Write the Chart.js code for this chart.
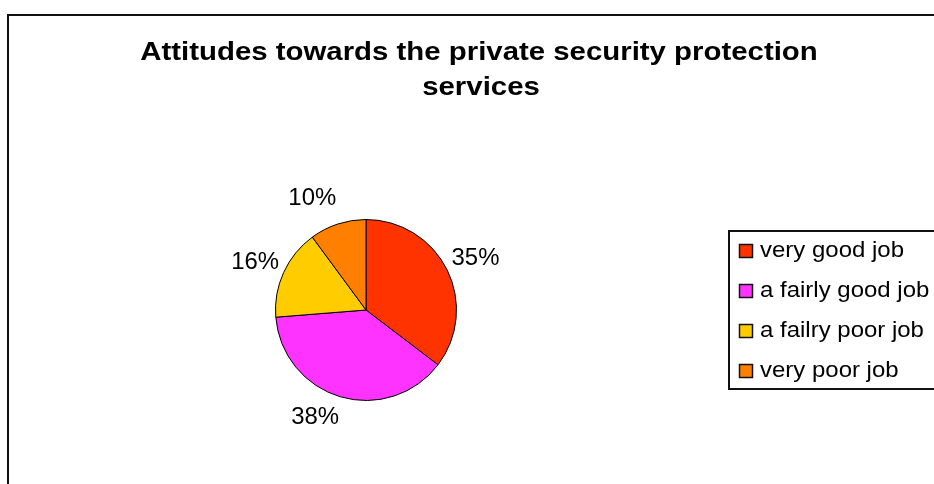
<!DOCTYPE html>
<html>
<head>
<meta charset="utf-8">
<script src="https://cdn.jsdelivr.net/npm/chart.js@4.4.1/dist/chart.umd.min.js"></script>
<style>
  html, body { margin: 0; padding: 0; background: #fff; }
  #wrap { position: relative; width: 934px; height: 484px; }
</style>
</head>
<body>
<div id="wrap"><canvas id="pie"></canvas></div>
<script>
const titleLines = ['Attitudes towards the private security protection', 'services'];
const categories = ['very good job', 'a fairly good job', 'a failry poor job', 'very poor job'];
const shares = [35, 38, 16, 10];
const sliceColors = ['#FF3300', '#FF33FF', '#FFCC00', '#FF8000'];

const FONT = '"Liberation Sans", Arial, sans-serif';

// text in the picture is a bit wider than Arial, so stretch it sideways
function drawText(ctx, text, x, y, font, sx, align) {
    ctx.save();
    ctx.font = font;
    ctx.fillStyle = '#000';
    ctx.textAlign = align;
    ctx.textBaseline = 'alphabetic';
    ctx.translate(x, y);
    ctx.scale(sx, 1);
    ctx.fillText(text, 0, 0);
    ctx.restore();
}

// outer frame + title
const framePlugin = {
    id: 'frame',
    beforeDraw(chart) {
        const ctx = chart.ctx;
        ctx.save();
        ctx.strokeStyle = '#111';
        ctx.lineWidth = 2;
        ctx.strokeRect(8, 15, 1000, 600);
        ctx.restore();
        const f = 'bold 26px ' + FONT;
        drawText(ctx, titleLines[0], 479, 60, f, 1.13, 'center');
        drawText(ctx, titleLines[1], 481, 95, f, 1.13, 'center');
    }
};

// percentage labels outside each slice
const labelPlugin = {
    id: 'sliceLabels',
    afterDatasetsDraw(chart) {
        const ctx = chart.ctx;
        const meta = chart.getDatasetMeta(0);
        const font = '23px ' + FONT;
        const sx = 1.04;
        meta.data.forEach((arc, i) => {
            const p = arc.getProps(['x', 'y', 'startAngle', 'endAngle', 'outerRadius'], true);
            const mid = (p.startAngle + p.endAngle) / 2;
            const ux = Math.cos(mid);
            const uy = Math.sin(mid);
            const text = shares[i] + '%';
            ctx.font = font;
            const w = ctx.measureText(text).width * sx;
            const cx = p.x + ux * (p.outerRadius + 5) + Math.sign(ux) * w / 2;
            const cy = p.y + uy * (p.outerRadius + 5) + uy * (uy < 0 ? 24 : 14);
            drawText(ctx, text, cx, cy + 8.5, font, sx, 'center');
        });
    }
};

// boxed legend on the right
const legendPlugin = {
    id: 'boxLegend',
    afterDraw(chart) {
        const ctx = chart.ctx;
        const ds = chart.data.datasets[0];
        ctx.save();
        ctx.strokeStyle = '#111';
        ctx.lineWidth = 2;
        ctx.strokeRect(729, 231, 300, 158);
        ctx.restore();
        chart.data.labels.forEach((lab, i) => {
            const y = 251 + i * 40;
            ctx.save();
            ctx.fillStyle = ds.backgroundColor[i];
            ctx.fillRect(739, y - 7, 14, 14);
            ctx.strokeStyle = '#111';
            ctx.lineWidth = 1.5;
            ctx.strokeRect(739.5, y - 6.5, 13, 13);
            ctx.restore();
            drawText(ctx, lab, 760, y + 6, '22px ' + FONT, 1.09, 'left');
        });
    }
};

new Chart(document.getElementById('pie'), {
    type: 'pie',
    data: {
        labels: categories,
        datasets: [{
            data: shares,
            backgroundColor: sliceColors,
            borderColor: '#000',
            borderWidth: 1,
            hoverOffset: 0
        }]
    },
    options: {
        responsive: true,
        maintainAspectRatio: false,
        animation: false,
        events: [],
        layout: { padding: { left: 275, right: 477, top: 219, bottom: 83 } },
        plugins: {
            legend: { display: false },
            title: { display: false },
            tooltip: { enabled: false }
        }
    },
    plugins: [framePlugin, labelPlugin, legendPlugin]
});
</script>
</body>
</html>
